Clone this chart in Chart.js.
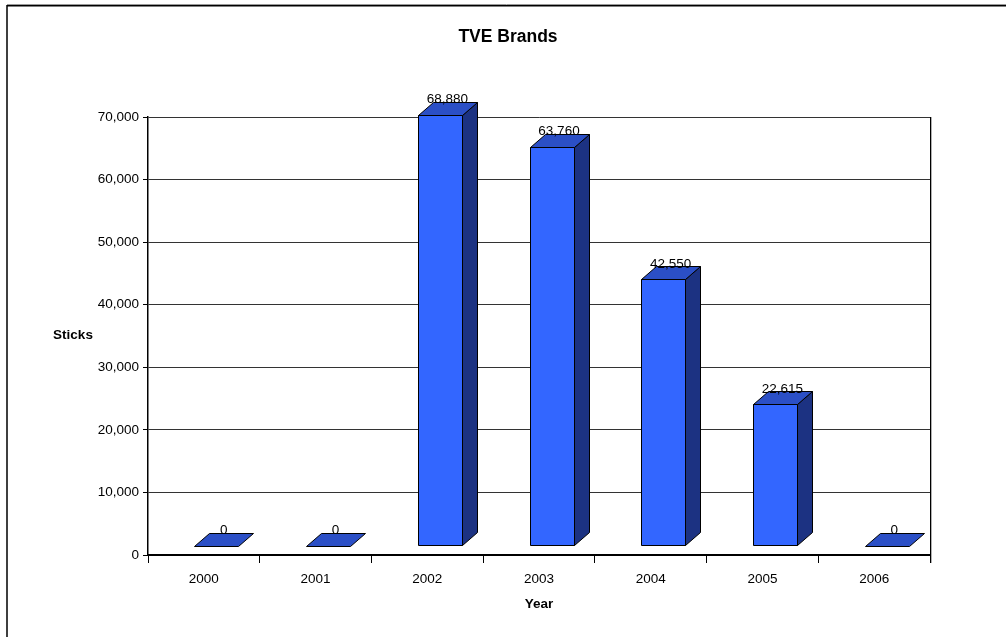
<!DOCTYPE html>
<html>
<head>
<meta charset="utf-8">
<title>TVE Brands</title>
<script src="https://cdn.jsdelivr.net/npm/chart.js@4.4.1/dist/chart.umd.min.js"></script>
<style>
    html, body { margin: 0; padding: 0; background: #fff; }
    canvas { display: block; }
</style>
</head>
<body>
<canvas id="barChart" width="1006" height="637"></canvas>
<script>
const years = ['2000', '2001', '2002', '2003', '2004', '2005', '2006'];
const sticks = [0, 0, 68880, 63760, 42550, 22615, 0];
const yMax = 70000;
const yStep = 10000;

const FONT = "'Liberation Sans', Arial, sans-serif";

// 3d look of the columns
const shiftX = 12.5;   // front face sits a bit right of the category centre
const lift = 9.5;      // and a bit above the floor line
const depthX = 15;
const depthY = 13;
const frontColor = '#3366ff';
const topColor = '#2b4fc6';
const sideColor = '#1c3282';

function fmt(v) {
    return v.toLocaleString('en-US');
}

const framePlugin = {
    id: 'frame',
    beforeDraw(chart) {
        const ctx = chart.ctx;
        ctx.save();
        ctx.fillStyle = '#fff';
        ctx.fillRect(0, 0, chart.width, chart.height);
        // outer frame, only top and left edges are visible
        ctx.strokeStyle = '#9a9a9a';
        ctx.lineWidth = 1;
        ctx.beginPath();
        ctx.moveTo(7, 4.5);
        ctx.lineTo(chart.width, 4.5);
        ctx.stroke();
        ctx.strokeStyle = '#000';
        ctx.lineWidth = 1.5;
        ctx.beginPath();
        ctx.moveTo(7, chart.height);
        ctx.lineTo(7, 5.75);
        ctx.lineTo(chart.width, 5.75);
        ctx.stroke();
        ctx.restore();
    },
    afterDraw(chart) {
        const ctx = chart.ctx;
        const area = chart.chartArea;
        ctx.save();
        // right edge of the plot area
        ctx.strokeStyle = '#000';
        ctx.lineWidth = 1;
        ctx.beginPath();
        ctx.moveTo(Math.round(area.right) + 0.5, area.top);
        ctx.lineTo(Math.round(area.right) + 0.5, area.bottom);
        ctx.stroke();
        ctx.strokeStyle = '#b0b0b0';
        ctx.beginPath();
        ctx.moveTo(Math.round(area.right) + 1.5, area.top);
        ctx.lineTo(Math.round(area.right) + 1.5, area.bottom + 8);
        ctx.stroke();
        ctx.fillStyle = '#000';
        ctx.textAlign = 'center';
        ctx.textBaseline = 'middle';
        // chart title, centred on the whole page
        ctx.font = 'bold 17.5px ' + FONT;
        ctx.fillText('TVE Brands', 508, 37);
        // horizontal y axis title
        ctx.font = 'bold 13.5px ' + FONT;
        ctx.fillText('Sticks', 73, 335);
        ctx.restore();
    }
};

const bar3dPlugin = {
    id: 'bar3d',
    beforeDatasetDraw(chart, args) {
        const ctx = chart.ctx;
        ctx.save();
        ctx.lineWidth = 1;
        ctx.strokeStyle = '#000';
        ctx.lineJoin = 'miter';
        args.meta.data.forEach((bar) => {
            const w = bar.width;
            const x0 = Math.round(bar.x - w / 2 + shiftX) + 0.5;
            const x1 = x0 + Math.round(w);
            const yTop = Math.round(bar.y - lift) + 0.5;
            const yBot = Math.round(bar.base - lift) + 0.5;

            if (yBot - yTop > 0.5) {
                // front
                ctx.fillStyle = frontColor;
                ctx.beginPath();
                ctx.rect(x0, yTop, x1 - x0, yBot - yTop);
                ctx.fill();
                ctx.stroke();
                // side
                ctx.fillStyle = sideColor;
                ctx.beginPath();
                ctx.moveTo(x1, yTop);
                ctx.lineTo(x1 + depthX, yTop - depthY);
                ctx.lineTo(x1 + depthX, yBot - depthY);
                ctx.lineTo(x1, yBot);
                ctx.closePath();
                ctx.fill();
                ctx.stroke();
            }
            // top
            ctx.fillStyle = topColor;
            ctx.beginPath();
            ctx.moveTo(x0, yTop);
            ctx.lineTo(x0 + depthX, yTop - depthY);
            ctx.lineTo(x1 + depthX, yTop - depthY);
            ctx.lineTo(x1, yTop);
            ctx.closePath();
            ctx.fill();
            ctx.stroke();
        });
        ctx.restore();
        return false;
    },
    afterDatasetsDraw(chart) {
        const ctx = chart.ctx;
        const meta = chart.getDatasetMeta(0);
        const values = chart.data.datasets[0].data;
        ctx.save();
        ctx.fillStyle = '#000';
        ctx.font = '13.5px ' + FONT;
        ctx.textAlign = 'center';
        ctx.textBaseline = 'middle';
        meta.data.forEach((bar, i) => {
            const cx = bar.x + shiftX + depthX / 2;
            const cy = bar.y - lift - 15;
            ctx.fillText(fmt(values[i]), cx, cy);
        });
        ctx.restore();
    }
};

document.addEventListener('DOMContentLoaded', () => {
    new Chart(document.getElementById('barChart'), {
        type: 'bar',
        data: {
            labels: years,
            datasets: [{
                label: 'Sticks',
                data: sticks,
                backgroundColor: frontColor,
                barThickness: 44
            }]
        },
        options: {
            responsive: false,
            animation: false,
            layout: {
                padding: { left: 0, right: 76, top: 117, bottom: 0 }
            },
            plugins: {
                legend: { display: false },
                tooltip: { enabled: false },
                title: { display: false }
            },
            scales: {
                x: {
                    offset: true,
                    grid: {
                        offset: true,
                        drawOnChartArea: false,
                        drawTicks: true,
                        tickLength: 8,
                        color: '#000'
                    },
                    border: { color: '#000', width: 2 },
                    ticks: {
                        color: '#000',
                        font: { family: FONT, size: 13.5 },
                        padding: 8
                    },
                    title: {
                        display: true,
                        text: 'Year',
                        color: '#000',
                        font: { family: FONT, size: 13.5, weight: 'bold' },
                        padding: { top: 4, bottom: 25 }
                    },
                    afterFit(scale) { scale.height = 82; }
                },
                y: {
                    min: 0,
                    max: yMax,
                    ticks: {
                        stepSize: yStep,
                        color: '#000',
                        font: { family: FONT, size: 13.5 },
                        padding: 4,
                        callback: (v) => fmt(v)
                    },
                    grid: {
                        color: '#333',
                        tickLength: 5,
                        tickColor: '#000'
                    },
                    border: { color: '#000', width: 1.5 },
                    afterFit(scale) { scale.width = 148; }
                }
            }
        },
        plugins: [framePlugin, bar3dPlugin]
    });
});
</script>
</body>
</html>
